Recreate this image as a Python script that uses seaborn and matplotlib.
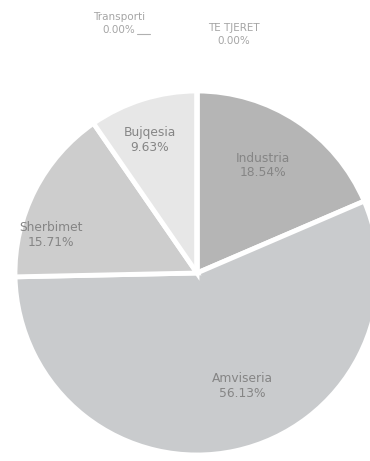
import matplotlib
matplotlib.use("Agg")
import matplotlib.pyplot as plt
import seaborn as sns

# Sector shares (%), drawn clockwise from 12 o'clock
sectors = ["Industria", "Amviseria", "Sherbimet", "Bujqesia", "Transporti", "TE TJERET"]
shares = [18.54, 56.13, 15.71, 9.63, 0.00, 0.00]
pct_labels = ["18.54%", "56.13%", "15.71%", "9.63%", "0.00%", "0.00%"]

sns.set_theme(style="white")
plt.rcParams["font.family"] = ["DejaVu Sans"]

colors = ["#b5b5b5", "#c9cbcd", "#cdcdcd", "#e7e7e7", "#d8d8d8", "#d8d8d8"]

fig = plt.figure(figsize=(3.70, 4.61), dpi=100)
ax = fig.add_axes([15 / 370, 6 / 461, 364 / 370, 364 / 461])

wedges, _ = ax.pie(
    shares,
    colors=colors,
    startangle=90,
    counterclock=False,
    radius=1.0,
    wedgeprops=dict(edgecolor="white", linewidth=3.5),
)
ax.set_xlim(-1, 1)
ax.set_ylim(-1, 1)
ax.set_aspect("equal")
ax.axis("off")

# label anchor per sector (data units, pie radius = 1)
label_pos = [(0.36, 0.59), (0.25, -0.62), (-0.80, 0.21), (-0.26, 0.73),
             (-0.43, 1.37), (0.20, 1.31)]
inside_color = "#858585"
outside_color = "#a5a5a5"

for i, (name, pct) in enumerate(zip(sectors, pct_labels)):
    x, y = label_pos[i]
    inside = shares[i] > 0
    ax.text(x, y, f"{name}\n{pct}", ha="center", va="center",
            fontsize=8.8 if inside else 7.5,
            color=inside_color if inside else outside_color,
            linespacing=1.15 if inside else 1.35, clip_on=False)

# short leader line for the Transporti label
ax.plot([-0.33, -0.26], [1.315, 1.315], color="#b0b0b0", lw=0.8, clip_on=False)

fig.savefig("out.png", dpi=100, facecolor="white")
